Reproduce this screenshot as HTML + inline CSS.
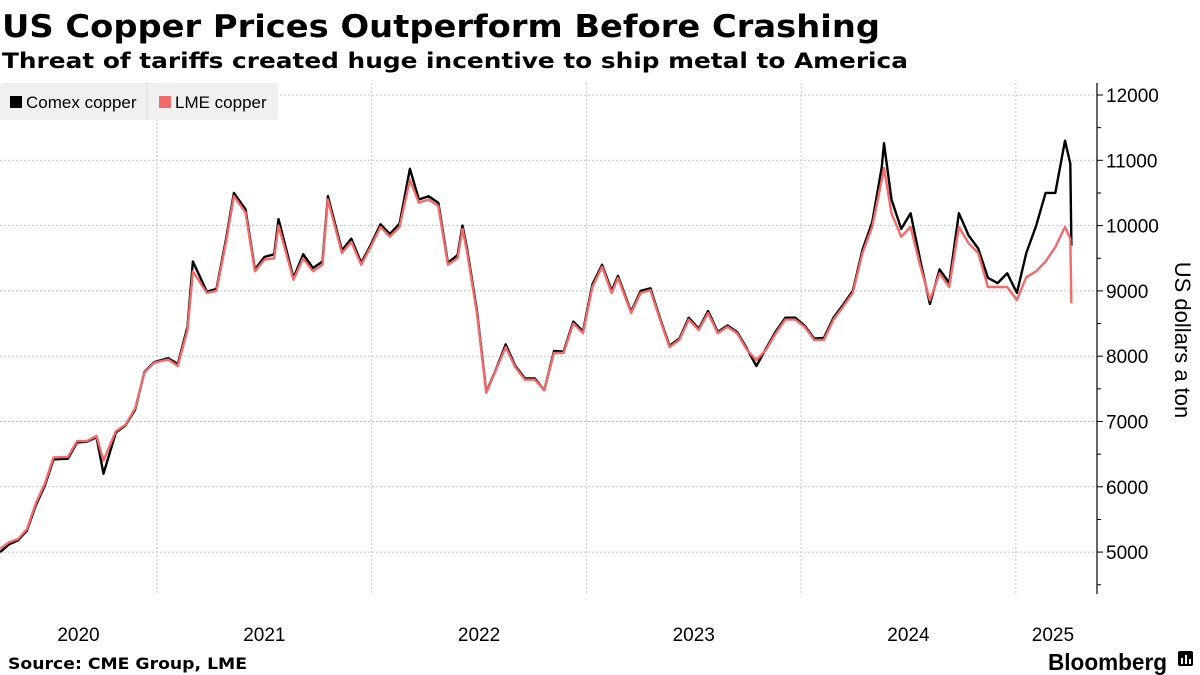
<!DOCTYPE html>
<html><head><meta charset="utf-8"><style>
body{margin:0;background:#fff;}
svg{display:block;font-family:"Liberation Sans","DejaVu Sans",sans-serif;}
</style></head><body>
<svg id="chart" width="1200" height="675" viewBox="0 0 1200 675" xmlns="http://www.w3.org/2000/svg">
<text x="2" y="37" font-family="DejaVu Sans, sans-serif" font-weight="bold" font-size="31" textLength="878" lengthAdjust="spacingAndGlyphs">US Copper Prices Outperform Before Crashing</text>
<text x="2" y="68" font-family="DejaVu Sans, sans-serif" font-weight="bold" font-size="21" textLength="906" lengthAdjust="spacingAndGlyphs">Threat of tariffs created huge incentive to ship metal to America</text>
<g id="grid"></g>
<g id="axis"></g>
<g id="series"></g>
<g>
<rect x="0" y="83" width="278" height="37" fill="#f0f0f0" rx="2"/>
<line x1="147" y1="83" x2="147" y2="120" stroke="#ddd"/>
<rect x="10" y="96" width="12" height="12" fill="#000"/>
<text x="26" y="108" font-size="17">Comex copper</text>
<rect x="159" y="96" width="12" height="12" fill="#f26a6a"/>
<text x="175" y="108" font-size="17">LME copper</text>
</g>
<text transform="translate(1175,340) rotate(90)" text-anchor="middle" font-size="22">US dollars a ton</text>
<text x="8" y="669" font-family="DejaVu Sans, sans-serif" font-weight="bold" font-size="16" textLength="239" lengthAdjust="spacingAndGlyphs">Source: CME Group, LME</text>
<text x="1048" y="670" font-weight="bold" font-size="23" textLength="119" lengthAdjust="spacingAndGlyphs">Bloomberg</text>
<g>
<rect x="1178" y="651" width="15" height="15" rx="2" fill="#000"/>
<rect x="1181" y="658" width="2" height="6" fill="#fff"/><rect x="1185" y="655" width="2" height="9" fill="#fff"/><rect x="1189" y="659" width="2" height="5" fill="#fff"/>
</g>
</svg>
<script>
const dates=[2020.269,2020.311,2020.353,2020.394,2020.436,2020.478,2020.518,2020.585,2020.628,2020.673,2020.718,2020.751,2020.808,2020.853,2020.898,2020.942,2020.987,2021.052,2021.097,2021.142,2021.167,2021.232,2021.277,2021.322,2021.358,2021.412,2021.456,2021.501,2021.546,2021.566,2021.636,2021.681,2021.726,2021.771,2021.796,2021.861,2021.905,2021.951,2021.995,2022.041,2022.085,2022.130,2022.178,2022.220,2022.265,2022.310,2022.355,2022.400,2022.423,2022.444,2022.490,2022.534,2022.579,2022.624,2022.669,2022.714,2022.759,2022.804,2022.849,2022.894,2022.939,2022.984,2023.028,2023.073,2023.118,2023.147,2023.208,2023.253,2023.298,2023.343,2023.387,2023.433,2023.477,2023.523,2023.567,2023.612,2023.657,2023.702,2023.747,2023.792,2023.837,2023.882,2023.927,2023.972,2024.016,2024.061,2024.106,2024.151,2024.196,2024.241,2024.286,2024.331,2024.376,2024.386,2024.421,2024.466,2024.510,2024.556,2024.600,2024.645,2024.690,2024.735,2024.780,2024.825,2024.870,2024.915,2024.960,2025.005,2025.049,2025.095,2025.139,2025.184,2025.229,2025.254,2025.259];
const lme=[5050,5150,5200,5350,5750,6050,6450,6460,6700,6700,6780,6400,6850,6950,7200,7750,7900,7950,7850,8400,9300,8970,9000,9750,10450,10200,9300,9480,9500,10000,9170,9500,9300,9400,10400,9580,9750,9400,9670,9980,9830,9980,10700,10350,10400,10300,9400,9500,9950,9600,8660,7440,7790,8140,7830,7640,7640,7480,8050,8050,8500,8350,9060,9370,8970,9200,8660,8970,9010,8560,8140,8250,8560,8400,8660,8350,8450,8350,8100,7940,8100,8350,8560,8560,8450,8250,8250,8560,8760,8970,9580,9980,10700,10880,10190,9830,9980,9370,8860,9270,9060,9980,9730,9580,9060,9060,9060,8860,9210,9300,9450,9670,9980,9800,8810];
const comex=[5000,5120,5180,5330,5720,6020,6420,6430,6680,6690,6760,6200,6830,6940,7180,7760,7910,7970,7880,8450,9450,8990,9030,9800,10500,10250,9330,9520,9560,10100,9200,9560,9350,9450,10450,9620,9800,9430,9700,10020,9870,10030,10870,10400,10450,10350,9430,9550,10000,9650,8700,7450,7800,8180,7850,7660,7660,7480,8080,8070,8530,8380,9100,9400,9000,9230,8680,9000,9040,8580,8160,8270,8590,8420,8690,8370,8470,8370,8120,7850,8120,8380,8590,8590,8470,8270,8280,8590,8790,9000,9630,10050,10900,11260,10400,9950,10190,9450,8800,9330,9120,10190,9850,9650,9200,9120,9270,8970,9580,10000,10500,10500,11300,10950,9690];
const yTicks=[5000,6000,7000,8000,9000,10000,11000,12000];
const xYears=[2020,2021,2022,2023,2024,2025];
const x=t=>157+(t-2021)*214.7;
const y=v=>95+(12000-v)*0.0653;
const NS="http://www.w3.org/2000/svg";
function mk(tag,attrs,parent,txt){const e=document.createElementNS(NS,tag);for(const k in attrs)e.setAttribute(k,attrs[k]);if(txt!==undefined)e.textContent=txt;parent.appendChild(e);return e;}
const grid=document.getElementById('grid'),axis=document.getElementById('axis'),series=document.getElementById('series');
yTicks.forEach(v=>{
  const g=mk('line',{x1:0,x2:1097,y1:y(v),y2:y(v),stroke:'#c8c8c8','stroke-dasharray':'2,2'},grid);
  
  
  const tk=mk('line',{x1:1097,x2:1103,y1:y(v),y2:y(v),stroke:'#000'},axis);
  
  
  const mt=mk('line',{x1:1097,x2:1101,y1:y(v-500),y2:y(v-500),stroke:'#000'},axis);
  
  
  const l=mk('text',{x:1106,y:y(v)+7,'font-size':19},axis,String(v));
  
  
});
xYears.forEach((yr,i)=>{
  if(i>0){const g=mk('line',{x1:x(yr),x2:x(yr),y1:83,y2:593,stroke:'#c8c8c8','stroke-dasharray':'2,2'},grid);
  
  }
  const start=Math.max(x(yr),0), end=Math.min(x(yr+1),1090);
  const l=mk('text',{x:(start+end)/2,y:641,'font-size':19,'text-anchor':'middle'},axis,String(yr));
  
  
});
const ax=mk('line',{x1:1097,x2:1097,y1:83,y2:594,stroke:'#000','stroke-width':1.2},axis);


function path(vals){return vals.map((v,i)=>(i?'L':'M')+x(dates[i]).toFixed(1)+','+y(v).toFixed(1)).join('');}
const c=mk('path',{d:path(comex),fill:'none',stroke:'#000','stroke-width':2.4,'stroke-linejoin':'round'},series);


const m=mk('path',{d:path(lme),fill:'none',stroke:'#f26a6a','stroke-width':2.4,'stroke-linejoin':'round'},series);


</script>
</body></html>
